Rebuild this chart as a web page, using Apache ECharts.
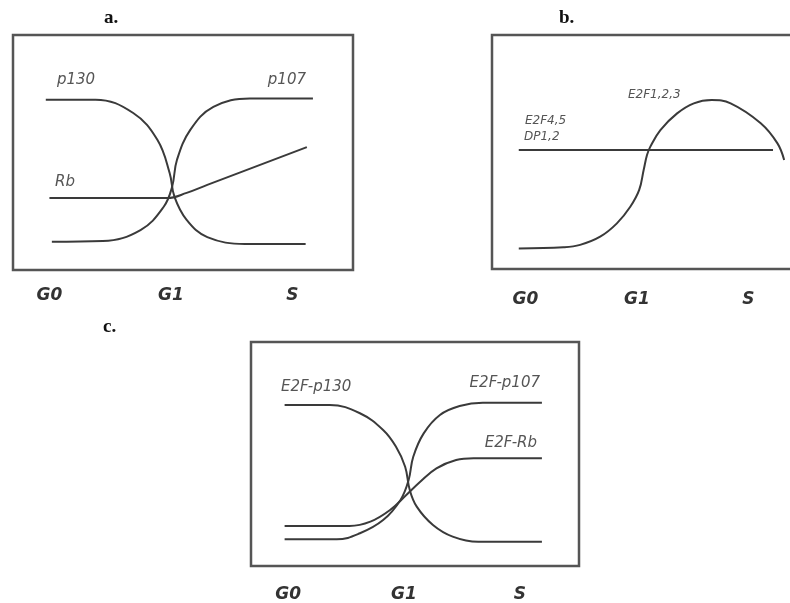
<!DOCTYPE html>
<html>
<head>
<meta charset="utf-8">
<script src="https://cdn.jsdelivr.net/npm/echarts@6/dist/echarts.min.js"></script>
<style>
  html, body { margin: 0; padding: 0; background: #fff; }
  #chart { width: 790px; height: 603px; }
</style>
</head>
<body>
<div id="chart"></div>
<script>
// x: cell-cycle phase (0 = G0, 1 = G1, 2 = S), y: relative level (0-100)
var phases = ['G0', 'G1', 'S'];

// panel a
var p130 = [[-0.03, 72.5], [0.38, 72.5], [0.69, 66.8], [0.89, 55.3], [0.99, 41.3], [1.03, 31.1], [1.13, 21.3], [1.30, 14.0], [1.61, 11.1], [2.11, 11.1]];
var p107 = [[0.02, 12.0], [0.44, 12.3], [0.75, 17.0], [0.94, 26.8], [1.01, 35.3], [1.05, 46.8], [1.16, 59.6], [1.35, 69.4], [1.65, 73.0], [2.17, 73.0]];
var rb = [[0.00, 30.6], [0.97, 30.6], [1.13, 32.8], [1.30, 36.2], [2.12, 52.3]];

// panel b
var e2f45 = [[-0.06, 50.9], [2.22, 50.9]];
var e2f123 = [[-0.06, 8.8], [0.34, 9.3], [0.49, 10.3], [0.67, 13.8], [0.82, 19.5], [0.94, 26.6], [1.02, 33.8], [1.06, 42.3], [1.09, 48.7], [1.12, 52.3], [1.21, 59.4], [1.36, 66.5], [1.51, 70.8], [1.67, 72.2], [1.84, 70.8], [2.11, 62.3], [2.26, 53.7], [2.32, 46.6]];

// panel c
var e2fP130 = [[-0.03, 71.9], [0.36, 71.9], [0.62, 68.2], [0.82, 60.7], [0.93, 53.3], [1.01, 44.3], [1.05, 33.9], [1.11, 26.5], [1.25, 18.3], [1.42, 13.1], [1.64, 10.8], [2.19, 10.8]];
var e2fP107 = [[-0.03, 11.9], [0.42, 11.9], [0.62, 14.6], [0.82, 20.5], [0.97, 29.5], [1.04, 38.4], [1.08, 48.8], [1.17, 59.2], [1.31, 67.4], [1.48, 71.4], [1.68, 72.9], [2.19, 72.9]];
var e2fRb = [[-0.03, 17.9], [0.53, 17.9], [0.71, 19.8], [0.88, 25.0], [1.02, 31.7], [1.14, 37.6], [1.28, 43.6], [1.45, 47.3], [1.60, 48.1], [2.19, 48.1]];

var chart = echarts.init(document.getElementById('chart'));

var lineColor = '#3a3a3a';
var labelFont = 'italic 15px "DejaVu Sans"';
var labelColor = '#555';
var titleFont = 'bold 19px "Liberation Serif"';

function xAxisFor(idx, min, max, margin) {
    return {
        type: 'value',
        gridIndex: idx,
        min: min,
        max: max,
        axisLine: { show: false },
        axisTick: { show: false },
        splitLine: { show: false },
        axisLabel: {
            show: true,
            customValues: [0, 1, 2],
            margin: margin,
            fontFamily: 'DejaVu Sans',
            fontStyle: 'italic',
            fontWeight: 'bold',
            fontSize: 17,
            color: '#333',
            formatter: function (v) { return phases[Math.round(v)]; }
        }
    };
}

function yAxisFor(idx) {
    return { type: 'value', gridIndex: idx, min: 0, max: 100, show: false };
}

function curve(data, idx) {
    return {
        type: 'line',
        xAxisIndex: idx,
        yAxisIndex: idx,
        data: data,
        smooth: 0.4,
        showSymbol: false,
        silent: true,
        lineStyle: { color: lineColor, width: 2 }
    };
}

function txt(text, x, y, font, align, color) {
    return {
        type: 'text',
        x: x,
        y: y,
        style: {
            text: text,
            font: font,
            fill: color || labelColor,
            align: align || 'left',
            verticalAlign: 'middle',
            textAlign: align || 'left',
            textVerticalAlign: 'middle'
        }
    };
}

var gridStyle = { show: true, borderColor: '#555', borderWidth: 2.5, outerBoundsMode: 'none', containLabel: false };

var option = {
    animation: false,
    grid: [
        Object.assign({ left: 13, top: 35, width: 340, height: 235 }, gridStyle),
        Object.assign({ left: 492, top: 35, width: 310, height: 234 }, gridStyle),
        Object.assign({ left: 251, top: 342, width: 328, height: 224 }, gridStyle)
    ],
    xAxis: [
        xAxisFor(0, -0.3, 2.5, 17),
        xAxisFor(1, -0.3, 2.48, 22),
        xAxisFor(2, -0.32, 2.51, 20)
    ],
    yAxis: [yAxisFor(0), yAxisFor(1), yAxisFor(2)],
    series: [
        curve(p130, 0), curve(p107, 0), curve(rb, 0),
        curve(e2f45, 1), curve(e2f123, 1),
        curve(e2fP130, 2), curve(e2fP107, 2), curve(e2fRb, 2)
    ],
    graphic: [
        txt('a.', 104, 18, titleFont, 'left', '#111'),
        txt('b.', 559, 18, titleFont, 'left', '#111'),
        txt('c.', 103, 327, titleFont, 'left', '#111'),
        txt('p130', 57, 80, labelFont),
        txt('p107', 306, 80, labelFont, 'right'),
        txt('Rb', 55, 182, labelFont),
        txt('E2F1,2,3', 628, 95, 'italic 12px "DejaVu Sans"'),
        txt('E2F4,5', 525, 121, 'italic 12px "DejaVu Sans"'),
        txt('DP1,2', 524, 137, 'italic 12px "DejaVu Sans"'),
        txt('E2F-p130', 281, 387, labelFont),
        txt('E2F-p107', 540, 383, labelFont, 'right'),
        txt('E2F-Rb', 537, 443, labelFont, 'right')
    ]
};

chart.setOption(option);

window.addEventListener('resize', function () {
    chart.resize();
});
</script>
</body>
</html>
